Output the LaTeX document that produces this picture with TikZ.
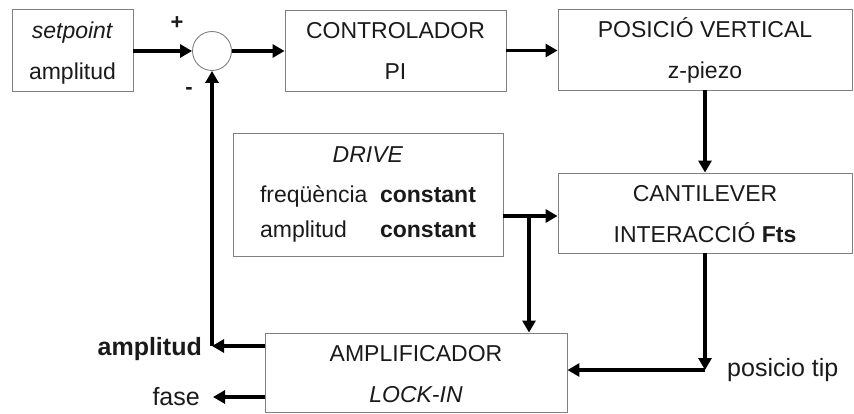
\documentclass[tikz,border=0pt]{standalone}
\usepackage{fontspec}
\setmainfont{Liberation Sans}
\usetikzlibrary{arrows.meta}
\definecolor{ink}{HTML}{1A1A1A}
\definecolor{frame}{HTML}{808080}
\tikzset{
  blockbox/.style={draw=frame, line width=0.9pt, rectangle, inner sep=0pt,
    align=center, text=ink, font=\fontsize{23}{41}\selectfont,
    text height=59pt, text depth=0pt},
  sumnode/.style={draw=frame, line width=0.9pt, circle, minimum size=39pt, inner sep=0pt},
  sig/.style={draw=black, line width=3.5pt, -{Triangle[length=12pt,width=13pt]}},
  plain/.style={text=ink, inner sep=0pt, font=\fontsize{25}{30}\selectfont}
}
\begin{document}
\begin{tikzpicture}[x=1pt,y=-1pt]
  \useasboundingbox (0,0) rectangle (854,414);

  % blocks
  \node[blockbox, minimum width=121pt, minimum height=82pt] (sp) at (72.5,50)
    {\textit{setpoint}\\amplitud};
  \node[sumnode] (sum) at (212,51) {};
  \node[blockbox, minimum width=221pt, minimum height=81pt] (ctrl) at (395.5,50.5)
    {CONTROLADOR\\PI};
  \node[blockbox, minimum width=294pt, minimum height=81pt] (pos) at (705,49.5)
    {POSICIÓ VERTICAL\\z-piezo};
  \node[blockbox, minimum width=294pt, minimum height=80pt] (cant) at (705,213)
    {CANTILEVER\\INTERACCIÓ \textbf{Fts}};
  \node[blockbox, minimum width=270pt, minimum height=123pt,
        font=\fontsize{23}{40}\selectfont, text height=85pt] (drive) at (368,194.5)
    {\textit{DRIVE}\\
     \makebox[120pt][l]{freqüència}\textbf{constant}\\[-5pt]
     \makebox[120pt][l]{amplitud}\textbf{constant}};
  \node[blockbox, minimum width=302pt, minimum height=79pt] (amp) at (416,372.5)
    {AMPLIFICADOR\\\textit{LOCK-IN}};

  % signs at the summing point
  \node[plain, font=\fontsize{22}{26}\bfseries] (plus) at (177,23) {+};
  \node[plain, font=\fontsize{22}{26}\bfseries] (minus) at (189,91) {-};

  % junction and corner points
  \coordinate (dj) at (529,216);
  \coordinate (tipc) at (705,370);
  \coordinate (fb) at (212,346);
  \coordinate (fs) at (213,397);

  % forward path
  \draw[sig] (sp.east |- sum.west) -- (sum.west);
  \draw[sig] (sum.east) -- (sum.east -| ctrl.west);
  \draw[sig] (ctrl.east) -- (ctrl.east -| pos.west);
  \draw[sig] (pos.south) -- (cant.north);
  \draw[sig] (drive.east |- dj) -- (dj -| cant.west);
  \draw[sig] (dj) -- (dj |- amp.north);
  \draw[sig] (cant.south) -- (tipc);
  \draw[sig] (tipc) -- (tipc -| amp.east);

  % outputs and feedback
  \draw[sig] (fb -| amp.west) -- (fb);
  \draw[sig] (fb) -- (sum.south);
  \draw[sig] (fs -| amp.west) -- (fs);

  % signal labels
  \node[plain, anchor=base west] (tiplbl) at (727,376) {posicio tip};
  \node[plain, anchor=base east, font=\fontsize{25}{30}\bfseries] (amplbl) at (202,355) {amplitud};
  \node[plain, anchor=base east] (faselbl) at (200,405) {fase};
\end{tikzpicture}
\end{document}
